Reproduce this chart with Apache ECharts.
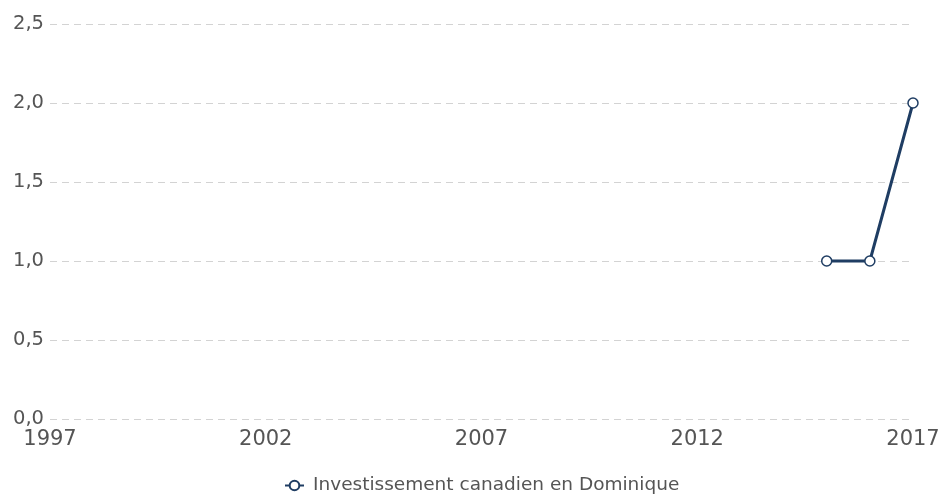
<!DOCTYPE html>
<html>
<head>
<meta charset="utf-8">
<script src="https://cdn.jsdelivr.net/npm/echarts@6/dist/echarts.min.js"></script>
<style>
  html, body { margin: 0; padding: 0; background: #fff; }
  #myChart { width: 941px; height: 496px; }
</style>
</head>
<body>
<div id="myChart"></div>
<script>
var years = [2015, 2016, 2017];
var values = [1, 1, 2];
var seriesName = "Investissement canadien en Dominique";

var font = "'DejaVu Sans', Verdana, sans-serif";
var myChart = echarts.init(document.getElementById("myChart"));
myChart.setOption({
  animation: false,
  textStyle: { fontFamily: font },
  grid: { left: 50, right: 28, top: 24, bottom: 77, containLabel: false, outerBoundsMode: "none" },
  legend: {
    top: 471,
    left: 279,
    itemWidth: 19,
    itemHeight: 12,
    textStyle: { color: "#555", fontSize: 18.5, fontFamily: font, padding: [0, 0, 0, 4] },
    data: [seriesName]
  },
  xAxis: {
    type: "value",
    min: 1997,
    max: 2017,
    interval: 5,
    axisLine: { show: false },
    axisTick: { show: false },
    splitLine: { show: false },
    axisLabel: {
      color: "#555",
      fontSize: 21,
      fontFamily: font,
      margin: 10,
      formatter: function (v) { return String(v); }
    }
  },
  yAxis: {
    type: "value",
    min: 0,
    max: 2.5,
    interval: 0.5,
    axisLine: { show: false },
    axisTick: { show: false },
    splitLine: { lineStyle: { color: "#d3d3d3", type: [7, 5], width: 1 } },
    axisLabel: {
      color: "#555",
      fontSize: 19.5,
      fontFamily: font,
      margin: 6,
      formatter: function (v) { return v.toFixed(1).replace(".", ","); }
    }
  },
  series: [{
    name: seriesName,
    type: "line",
    data: years.map(function (y, i) { return [y, values[i]]; }),
    symbol: "circle",
    symbolSize: 10,
    lineStyle: { color: "#1f3d63", width: 3 },
    itemStyle: { color: "#fff", borderColor: "#1f3d63", borderWidth: 1.5 }
  }]
});
</script>
</body>
</html>
